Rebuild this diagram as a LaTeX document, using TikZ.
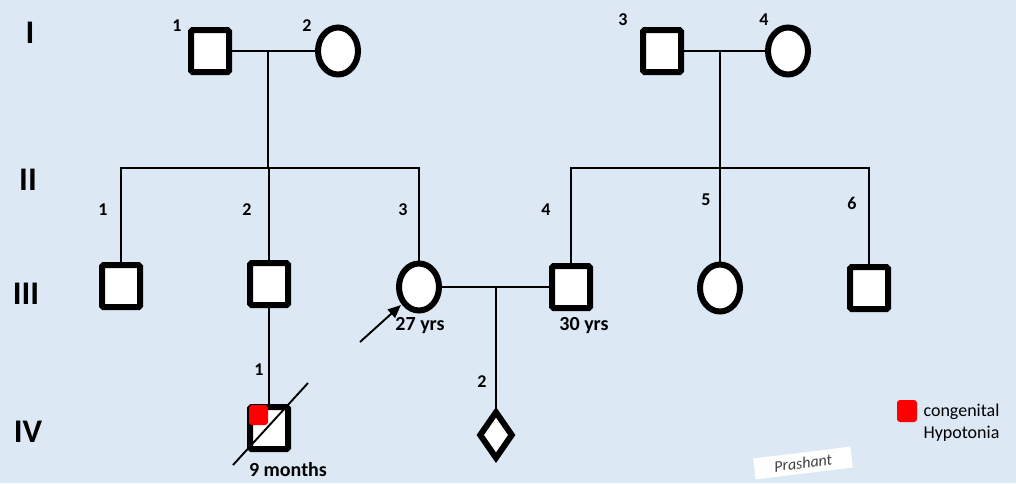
\documentclass[tikz,border=0pt]{standalone}
\usepackage{fontspec}
\setmainfont{Carlito}
\usetikzlibrary{shapes.geometric,arrows.meta}
\definecolor{paper}{RGB}{221,232,245}
\definecolor{affected}{RGB}{255,0,0}

\tikzset{
  male/.style={rectangle, draw=black, fill=white, line width=6pt,
    minimum width=38pt, minimum height=42pt, inner sep=0pt, rounded corners=1.5pt},
  female/.style={ellipse, draw=black, fill=white, line width=6pt,
    minimum width=40pt, minimum height=47pt, inner sep=0pt},
  unknown/.style={diamond, draw=black, fill=white, line width=6pt,
    minimum width=34pt, minimum height=48pt, inner sep=0pt},
  link/.style={draw=black, line width=1.9pt},
  gen/.style={font=\fontsize{33}{33}\selectfont\bfseries},
  num/.style={font=\fontsize{18}{18}\selectfont\bfseries},
  age/.style={font=\fontsize{20}{20}\selectfont\bfseries},
  affmark/.style={rectangle, fill=affected, rounded corners=3pt, inner sep=0pt},
}

\begin{document}
\begin{tikzpicture}[x=1pt,y=-1pt]
  \fill[paper] (0,0) rectangle (1016,483);
  \useasboundingbox (0,0) rectangle (1016,483);

  % generation numerals
  \node[gen] (gI)   at (30,33)  {I};
  \node[gen] (gII)  at (28,180) {II};
  \node[gen] (gIII) at (26,294) {III};
  \node[gen] (gIV)  at (28,432) {IV};

  % generation I
  \node[male]   (I1) at (210,51) {};
  \node[female] (I2) at (338,51) {};
  \node[male]   (I3) at (662,51) {};
  \node[female] (I4) at (788,51) {};
  \node[num] (nI1) at (177,26) {1};
  \node[num] (nI2) at (307,26) {2};
  \node[num] (nI3) at (623,20) {3};
  \node[num] (nI4) at (764,20) {4};

  % generation III row
  \node[male]   (A) at (121,286) {};
  \node[male]   (B) at (269,284) {};
  \node[female] (C) at (419,287) {};
  \node[male]   (D) at (571,287) {};
  \node[female] (E) at (720,288) {};
  \node[male]   (F) at (869,288) {};

  % generation IV
  \node[male]    (IV1) at (269,428) {};
  \node[unknown] (IV2) at (496,435) {};

  % matings and sibships
  \coordinate (m1) at (268,51);
  \coordinate (s1) at (268,168);
  \coordinate (m2) at (720,51);
  \coordinate (s2) at (720,168);
  \coordinate (m3) at (496,287);

  \path[link] (I1.east) -- (I2.west);
  \path[link] (m1) -- (s1);
  \path[link] (A.north) |- (s1) -| (C.north);
  \path[link] (B.north |- s1) -- (B.north);

  \path[link] (I3.east) -- (I4.west);
  \path[link] (m2) -- (E.north);
  \path[link] (D.north) |- (s2) -| (F.north);

  \path[link] (C.east) -- (D.west);
  \path[link] (m3) -- (IV2.north);
  \path[link] (B.south) -- (IV1.north);

  % individual numbers
  \node[num] (n1) at (103,210) {1};
  \node[num] (n2) at (247,210) {2};
  \node[num] (n3) at (403,210) {3};
  \node[num] (n4) at (546,210) {4};
  \node[num] (n5) at (706,200) {5};
  \node[num] (n6) at (852,203) {6};
  \node[num] (n7) at (259,370) {1};
  \node[num] (n8) at (482,382) {2};

  % ages
  \node[age] (a1) at (420,326) {27 yrs};
  \node[age] (a2) at (584,326) {30 yrs};
  \node[age] (a3) at (288,470) {9 months};

  % proband arrow
  \coordinate (pa) at (360,342);
  \draw[line width=1.9pt, -{Triangle[length=13pt,width=11pt]}, shorten >=1pt] (pa) -- (C.225);

  % affected mark and deceased stroke on IV-1
  \node[affmark, minimum width=19pt, minimum height=20pt] (red) at (258.5,415) {};
  \coordinate (d1) at (233,465);
  \coordinate (d2) at (308,383);
  \path[link] (d1) -- (d2);

  % key
  \node[affmark, minimum width=20pt, minimum height=22pt] (key) at (907,411) {};
  \node[anchor=west, align=left, font=\fontsize{18}{22}\selectfont] (keytext) at (920,423)
    {congenital\\Hypotonia};

  % signature slip
  \node[rotate=7, fill=white, minimum width=98pt, minimum height=21pt, inner sep=0pt,
        font=\fontsize{16}{16}\selectfont\itshape, text=black!75] (sig) at (803,463) {Prashant};
\end{tikzpicture}
\end{document}
